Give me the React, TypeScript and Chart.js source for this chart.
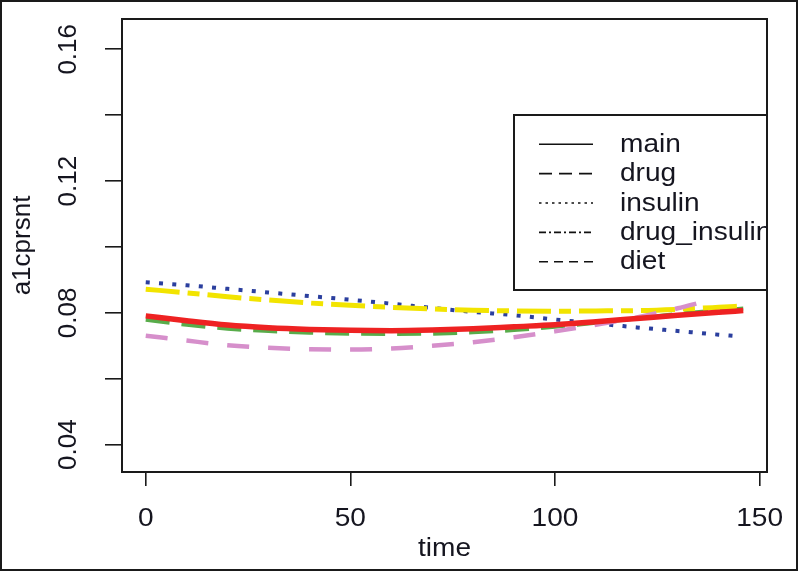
import React, { useEffect, useRef } from "react";
import { Chart, registerables } from "chart.js";

Chart.register(...registerables);

// ---- data ----
const time = [0, 10, 20, 30, 40, 50, 60, 70, 80, 90, 100, 110, 120, 130, 140, 146];
const mainValues = [0.0791, 0.0776, 0.0763, 0.0755, 0.075, 0.0747, 0.0746, 0.0748, 0.0752, 0.0758, 0.0764, 0.0773, 0.0783, 0.0793, 0.0802, 0.0807];
const drugValues = [0.0779, 0.0764, 0.0752, 0.0745, 0.074, 0.0737, 0.0736, 0.0737, 0.0741, 0.0748, 0.0758, 0.077, 0.0783, 0.0797, 0.0808, 0.0813];
const insulinTime = [0, 10, 20, 30, 40, 50, 60, 70, 80, 90, 100, 110, 120, 130, 140, 144];
const insulinValues = [0.0893, 0.0884, 0.0873, 0.0862, 0.0851, 0.084, 0.0828, 0.0815, 0.0803, 0.0793, 0.078, 0.0768, 0.0756, 0.0745, 0.0734, 0.073];
const drugInsulinValues = [0.0872, 0.0861, 0.0849, 0.0839, 0.083, 0.0823, 0.0817, 0.0812, 0.0808, 0.0806, 0.0805, 0.0806, 0.0807, 0.0811, 0.0817, 0.0821];
const dietTime = [0, 10, 20, 30, 40, 50, 60, 70, 80, 90, 100, 110, 120, 130, 136];
const dietValues = [0.0731, 0.0716, 0.0702, 0.0694, 0.069, 0.0689, 0.0692, 0.07, 0.0711, 0.0726, 0.0744, 0.0764, 0.0786, 0.0814, 0.0833];

const xTicks = [0, 50, 100, 150];
const yTicks = [0.04, 0.06, 0.08, 0.1, 0.12, 0.14, 0.16];
const yLabelTicks = [0.04, 0.08, 0.12, 0.16];
const legendNames = ["main", "drug", "insulin", "drug_insulin", "diet"];
const xTitle = "time";
const yTitle = "a1cprsnt";

const FONT = '"Liberation Sans", Arial, Helvetica, sans-serif';
const TEXT = "#15151f";
const AXIS = "#1a1a1a";
const STRETCH = 1.08;

const legendDashes: number[][] = [[], [13, 7], [2.5, 4], [7, 3, 2, 3], [9, 6]];

function stretchedText(ctx: any, text: string, x: number, y: number, align: string) {
  ctx.save();
  ctx.translate(x, y);
  ctx.scale(STRETCH, 1);
  ctx.textAlign = align;
  ctx.textBaseline = "alphabetic";
  ctx.fillText(text, 0, 0);
  ctx.restore();
}

const rPlugin = {
  id: "rstyle",
  afterDraw(chart: any) {
    const { ctx, chartArea, width, height } = chart;
    const { left, top, right, bottom } = chartArea;
    const yScale = chart.scales.y;
    const xScale = chart.scales.x;
    ctx.save();
    // plot box
    ctx.strokeStyle = AXIS;
    ctx.lineWidth = 2;
    ctx.setLineDash([]);
    ctx.strokeRect(left, top, right - left, bottom - top);
    // outer frame
    ctx.strokeRect(1, 1, width - 2, height - 2);

    ctx.font = `26px ${FONT}`;
    ctx.fillStyle = TEXT;
    // y tick labels (rotated, R style)
    yLabelTicks.forEach((v) => {
      const py = yScale.getPixelForValue(v);
      ctx.save();
      ctx.translate(76, py);
      ctx.rotate(-Math.PI / 2);
      ctx.textAlign = "center";
      ctx.textBaseline = "alphabetic";
      ctx.fillText(v.toFixed(2), 0, 0);
      ctx.restore();
    });
    // x tick labels
    xTicks.forEach((v) => {
      stretchedText(ctx, String(v), xScale.getPixelForValue(v), 526, "center");
    });
    // x title
    stretchedText(ctx, xTitle, (left + right) / 2, 556, "center");

    // legend (clipped to plot region)
    ctx.save();
    ctx.beginPath();
    ctx.rect(left, top, right - left, bottom - top);
    ctx.clip();
    const lx = 514, ly = 115, lw = right - 514, lh = 175;
    ctx.fillStyle = "#ffffff";
    ctx.fillRect(lx, ly, lw, lh);
    ctx.strokeStyle = AXIS;
    ctx.lineWidth = 2;
    ctx.strokeRect(lx, ly, lw, lh);
    legendNames.forEach((name, i) => {
      const ry = 144.3 + i * 29.35;
      ctx.beginPath();
      ctx.setLineDash(legendDashes[i]);
      ctx.lineWidth = 1.6;
      ctx.strokeStyle = "#111";
      ctx.moveTo(539, ry);
      ctx.lineTo(593, ry);
      ctx.stroke();
      ctx.setLineDash([]);
      ctx.fillStyle = TEXT;
      ctx.font = `26px ${FONT}`;
      stretchedText(ctx, name, 620, ry + 7.5, "left");
    });
    ctx.restore();
    ctx.restore();
  },
};

function pts(xs: number[], ys: number[]) {
  return xs.map((x, i) => ({ x, y: ys[i] }));
}

export default function App() {
  const ref = useRef<HTMLCanvasElement>(null);
  useEffect(() => {
    if (!ref.current) return;
    const common = { pointRadius: 0, fill: false, cubicInterpolationMode: "monotone" as const, borderCapStyle: "butt" as const };
    const chart = new Chart(ref.current, {
      type: "line",
      data: {
        datasets: [
          { ...common, label: "main", data: pts(time, mainValues), borderColor: "#EE2222", borderWidth: 5.5 },
          { ...common, label: "diet", data: pts(dietTime, dietValues), borderColor: "#D68FCB", borderWidth: 4.5, borderDash: [22, 19] },
          { ...common, label: "drug_insulin", data: pts(time, drugInsulinValues), borderColor: "#F2E400", borderWidth: 5, borderDash: [34, 8, 12, 8] },
          { ...common, label: "insulin", data: pts(insulinTime, insulinValues), borderColor: "#2B3F9E", borderWidth: 4, borderDash: [4, 9.3] },
          { ...common, label: "drug", data: pts(time, drugValues), borderColor: "#58AC4A", borderWidth: 4, borderDash: [24, 12] },
        ],
      },
      options: {
        animation: false,
        responsive: false,
        events: [],
        layout: { padding: { top: 19, right: 31, left: 0, bottom: 0 } },
        plugins: { legend: { display: false }, tooltip: { enabled: false } },
        scales: {
          x: {
            type: "linear",
            position: "bottom",
            min: -5.8,
            max: 151.8,
            afterBuildTicks: (s: any) => {
              s.ticks = xTicks.map((v) => ({ value: v }));
            },
            afterFit: (s: any) => {
              s.height = 99;
            },
            grid: { drawOnChartArea: false, drawTicks: true, tickLength: 14, color: AXIS, lineWidth: 1.6 },
            border: { display: false },
            ticks: { display: false },
            title: { display: false, text: xTitle },
          },
          y: {
            type: "linear",
            position: "left",
            min: 0.03172,
            max: 0.16919,
            afterBuildTicks: (s: any) => {
              s.ticks = yTicks.map((v) => ({ value: v }));
            },
            afterFit: (s: any) => {
              s.width = 122;
            },
            grid: { drawOnChartArea: false, drawTicks: true, tickLength: 17, color: AXIS, lineWidth: 1.6 },
            border: { display: false },
            ticks: { display: false },
            title: {
              display: true,
              text: yTitle,
              color: TEXT,
              font: { family: FONT, size: 26, lineHeight: 1.2 },
              padding: { top: 7, bottom: 0 },
            },
          },
        },
      },
      plugins: [rPlugin],
    });
    return () => chart.destroy();
  }, []);
  return (
    <div style={{ position: "absolute", left: 0, top: 0, width: 798, height: 571, background: "#fff" }}>
      <canvas ref={ref} width={798} height={571} style={{ display: "block" }} />
    </div>
  );
}
